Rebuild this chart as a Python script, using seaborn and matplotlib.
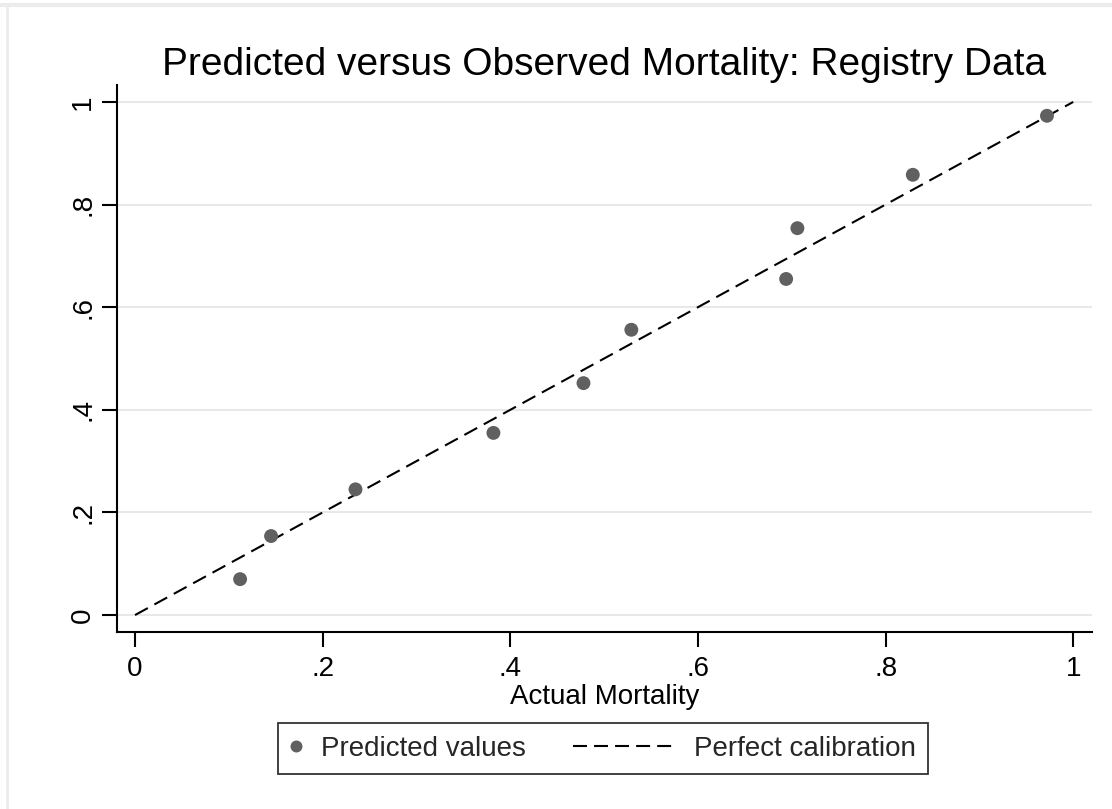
import matplotlib
matplotlib.use("Agg")
import matplotlib.pyplot as plt
import seaborn as sns
import pandas as pd
from matplotlib.lines import Line2D
from matplotlib.legend_handler import HandlerBase

# Data
actual = [0.112, 0.145, 0.235, 0.382, 0.478, 0.529, 0.694, 0.706, 0.829, 0.972]
predicted = [0.070, 0.154, 0.245, 0.355, 0.452, 0.556, 0.655, 0.754, 0.858, 0.973]
calib_x = [0.0, 1.0]
calib_y = [0.0, 1.0]
ticks = [0, 0.2, 0.4, 0.6, 0.8, 1.0]
tick_labels = ["0", ".2", ".4", ".6", ".8", "1"]
legend_labels = ["Predicted values", "Perfect calibration"]

sns.set_theme(style="white")
plt.rcParams["font.family"] = ["Liberation Sans", "DejaVu Sans"]

PT = 0.72  # points per pixel at 100 dpi

fig = plt.figure(figsize=(11.12, 8.09), dpi=100)
ax = fig.add_axes([117/1112, 1-632/809, (1092-117)/1112, (632-85)/809])

df = pd.DataFrame({"Actual Mortality": actual, "Predicted": predicted})
sns.scatterplot(data=df, x="Actual Mortality", y="Predicted", ax=ax,
                color="#606060", s=100, edgecolor="none", zorder=3, legend=False)
sns.lineplot(x=calib_x, y=calib_y, ax=ax, color="black", linewidth=1.5,
             linestyle=(0, (7, 3.6)), zorder=2)

ax.set_xlim(-0.0192, 1.020)
ax.set_ylim(-0.033, 1.033)
ax.set_xticks(ticks)
ax.set_xticklabels(tick_labels, fontsize=20)
ax.set_yticks(ticks)
ax.set_yticklabels(tick_labels, fontsize=20, rotation=90, va="center")
for yv in ticks:
    ax.axhline(yv, color="#e8e8e8", linewidth=1.5, zorder=1)

for s in ["top", "right"]:
    ax.spines[s].set_visible(False)
for s in ["left", "bottom"]:
    ax.spines[s].set_color("black")
    ax.spines[s].set_linewidth(1.5)
ax.tick_params(axis="both", which="major", direction="out", length=11, width=1.5,
               color="black", left=True, bottom=True, pad=6, labelcolor="black")
ax.tick_params(axis="y", pad=4)

ax.set_xlabel("Actual Mortality", fontsize=20, labelpad=2, color="black")
ax.set_ylabel("")
ax.set_title("Predicted versus Observed Mortality: Registry Data", fontsize=28,
             color="black", pad=7)


class MarkerHandler(HandlerBase):
    def create_artists(self, legend, orig_handle, xdescent, ydescent, width,
                       height, fontsize, trans):
        x = -xdescent + 6 * PT
        y = (height - ydescent) / 2
        ln = Line2D([x], [y], marker="o", linestyle="none", color="#606060",
                    markersize=8.6, markeredgewidth=0, transform=trans)
        return [ln]


class DashHandler(HandlerBase):
    def create_artists(self, legend, orig_handle, xdescent, ydescent, width,
                       height, fontsize, trans):
        x1 = width - xdescent
        x0 = x1 - 105 * PT
        y = (height - ydescent) / 2
        ln = Line2D([x0, x1], [y, y], color="black", linewidth=1.5,
                    linestyle=(0, (6.7, 3.4)), transform=trans)
        return [ln]


h1 = Line2D([], [], marker="o", linestyle="none")
h2 = Line2D([], [])
leg = fig.legend([h1, h2], legend_labels, ncol=2,
                 handler_map={h1: MarkerHandler(), h2: DashHandler()},
                 loc="center", bbox_to_anchor=(603/1112, 1-748.5/809),
                 fontsize=20, frameon=True, fancybox=False, handlelength=0.54,
                 columnspacing=4.93, handletextpad=0.576, borderpad=0.45,
                 borderaxespad=0)
leg.get_frame().set_edgecolor("black")
leg.get_frame().set_linewidth(1.3)

# light outer frame at top and left
fig.add_artist(Line2D([7/1112, 7/1112], [0, 1-5/809], transform=fig.transFigure,
                      color="#ececec", linewidth=2))
fig.add_artist(Line2D([0, 1], [1-5/809, 1-5/809], transform=fig.transFigure,
                      color="#ececec", linewidth=3))

fig.savefig("out.png", dpi=100)
